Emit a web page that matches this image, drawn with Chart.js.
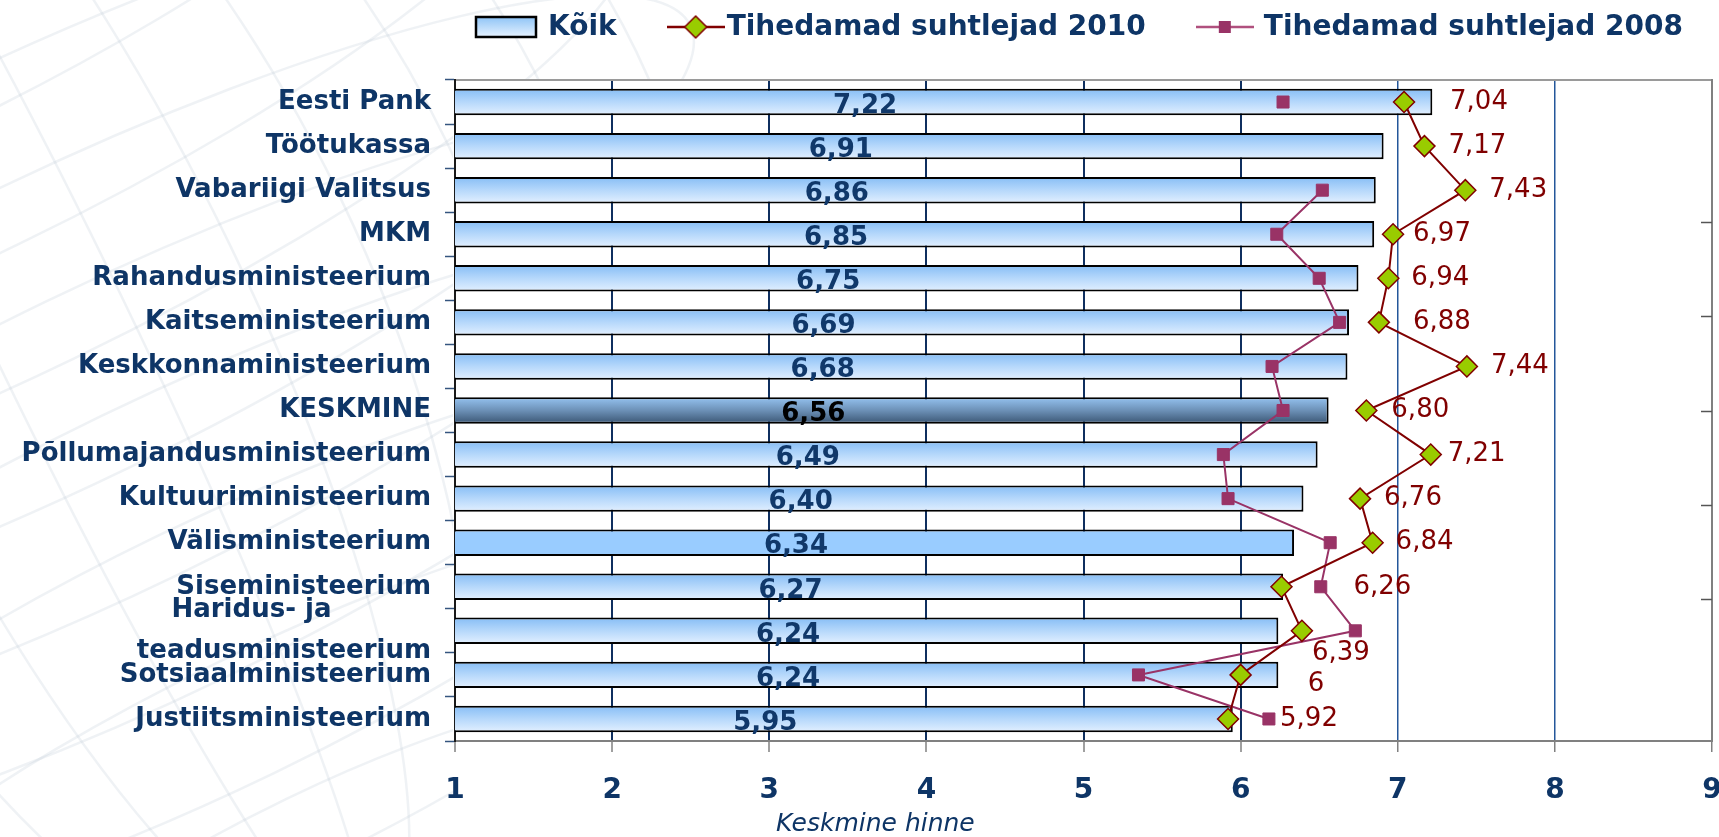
<!DOCTYPE html>
<html>
<head>
<meta charset="utf-8">
<script src="https://cdn.jsdelivr.net/npm/chart.js@4/dist/chart.umd.min.js"></script>
<style>
  html, body { margin: 0; padding: 0; background: #fff; }
  canvas { display: block; }
</style>
</head>
<body>
<canvas id="hinded" width="1719" height="837"></canvas>
<script>
// Andmed
const asutused = [
  'Eesti Pank', 'Töötukassa', 'Vabariigi Valitsus', 'MKM', 'Rahandusministeerium',
  'Kaitseministeerium', 'Keskkonnaministeerium', 'KESKMINE', 'Põllumajandusministeerium',
  'Kultuuriministeerium', 'Välisministeerium', 'Siseministeerium',
  ['Haridus- ja' + '\u00a0'.repeat(11), 'teadusministeerium'],
  'Sotsiaalministeerium', 'Justiitsministeerium'
];
const koik = [7.22, 6.91, 6.86, 6.85, 6.75, 6.69, 6.68, 6.56, 6.49, 6.40, 6.34, 6.27, 6.24, 6.24, 5.95];
const suhtlejad2010 = [7.04, 7.17, 7.43, 6.97, 6.94, 6.88, 7.44, 6.80, 7.21, 6.76, 6.84, 6.26, 6.39, 6.00, 5.92];
const suhtlejad2008 = [6.27, null, 6.52, 6.23, 6.50, 6.63, 6.20, 6.27, 5.89, 5.92, 6.57, 6.51, 6.73, 5.35, 6.18];
const xTicks = [1, 2, 3, 4, 5, 6, 7, 8, 9];
const y2Ticks = [1, 2, 3, 4, 5];

// 2010 siltide nihe punktist (px), Exceli käsitsi paigutus
const silt2010Nihe = [[46, 0], [24, 0], [24, 0], [20, 0], [23, 0], [34, 0], [24, 0], [25, 0],
  [17, 0], [24, 0], [23, 0], [72, 0], [10, 22], [67, 9], [52, 0]];

const FONT = '"DejaVu Sans", Verdana, sans-serif';
const TEKST = '#0e3566';
const PALK_OSA = 0.6;

const koma = v => Number.isInteger(v) ? String(v) : v.toFixed(2).replace('.', ',');

// Tulpade täide: gradient iga tulba kohta
function palgiTaust(c) {
  const chart = c.chart;
  const y = chart.scales.y;
  if (c.type !== 'data' || !y) return '#99ccff';
  const nimi = asutused[c.dataIndex];
  if (nimi === 'Välisministeerium') return '#99ccff';
  const kesk = y.getPixelForValue(c.dataIndex);
  const pool = Math.abs(y.getPixelForValue(1) - y.getPixelForValue(0)) * PALK_OSA / 2;
  if (!isFinite(kesk) || !isFinite(pool) || pool <= 0) return '#b6d8fb';
  const g = chart.ctx.createLinearGradient(0, kesk - pool, 0, kesk + pool);
  if (nimi === 'KESKMINE') {
    g.addColorStop(0, '#95c3f1');
    g.addColorStop(0.5, '#6c90b6');
    g.addColorStop(1, '#3a5573');
  } else {
    g.addColorStop(0, '#86bdf5');
    g.addColorStop(0.5, '#b6d8fb');
    g.addColorStop(1, '#e3f0ff');
  }
  return g;
}

// Legendi ikoonid
function kastIkoon() {
  const c = document.createElement('canvas');
  c.width = 64; c.height = 24;
  const g = c.getContext('2d');
  const gr = g.createLinearGradient(0, 2, 0, 22);
  gr.addColorStop(0, '#8fc4f6');
  gr.addColorStop(1, '#e6f2ff');
  g.fillStyle = gr;
  g.fillRect(2, 2, 60, 20);
  g.strokeStyle = '#000';
  g.lineWidth = 2.5;
  g.strokeRect(2, 2, 60, 20);
  return c;
}
function joonIkoon(varv, kuju) {
  const c = document.createElement('canvas');
  c.width = 58; c.height = 26;
  const g = c.getContext('2d');
  g.strokeStyle = varv;
  g.lineWidth = 2.5;
  g.beginPath(); g.moveTo(0, 13); g.lineTo(58, 13); g.stroke();
  if (kuju === 'romb') {
    g.beginPath();
    g.moveTo(18, 13); g.lineTo(29, 2); g.lineTo(40, 13); g.lineTo(29, 24); g.closePath();
    g.fillStyle = '#99cc00'; g.fill();
    g.lineWidth = 1.5; g.strokeStyle = '#800000'; g.stroke();
  } else {
    g.fillStyle = '#993366';
    g.fillRect(23, 7, 12, 12);
  }
  return c;
}
const legendiIkoonid = [
  { ikoon: kastIkoon(), vahe: 10 },
  { ikoon: joonIkoon('#800000', 'romb'), vahe: 2 },
  { ikoon: joonIkoon('#b0507e', 'ruut'), vahe: 10 }
];

// Taustamuster (kerakujuline vesimärk)
const taust = {
  id: 'taust',
  beforeDraw(chart) {
    const g = chart.ctx;
    const ala = chart.chartArea;
    g.save();
    g.fillStyle = '#fff';
    g.fillRect(0, 0, chart.width, chart.height);
    g.beginPath();
    g.rect(0, 0, ala.left - 2, chart.height);
    g.rect(ala.left - 2, 0, 300, ala.top);
    g.clip();
    g.strokeStyle = 'rgba(190, 202, 215, 0.25)';
    g.lineWidth = 2.5;
    g.translate(60, 330);
    g.rotate(-0.45);
    for (const rx of [70, 190, 310, 430, 540, 640]) {
      g.beginPath(); g.ellipse(0, 0, rx, 700, 0, 0, Math.PI * 2); g.stroke();
    }
    for (let k = -5; k <= 5; k++) {
      const yk = k * 120;
      const rx = Math.sqrt(700 * 700 - yk * yk);
      g.beginPath(); g.ellipse(0, yk, rx, rx * 0.22, 0, 0, Math.PI * 2); g.stroke();
    }
    g.restore();
  }
};

// Parempoolse telje sisemised kriipsud
const sisekriipsud = {
  id: 'sisekriipsud',
  afterDraw(chart) {
    const s = chart.scales.y2;
    const g = chart.ctx;
    g.save();
    g.strokeStyle = '#555';
    g.lineWidth = 1.5;
    y2Ticks.forEach(v => {
      const y = Math.round(s.getPixelForValue(v)) + 0.5;
      g.beginPath(); g.moveTo(s.left - 11, y); g.lineTo(s.left, y); g.stroke();
    });
    g.restore();
  }
};

// Legend ülal
const legendiRida = {
  id: 'legendiRida',
  afterDraw(chart) {
    const g = chart.ctx;
    const yKesk = 27;
    let x = 474;
    g.save();
    g.font = 'bold 28px ' + FONT;
    g.textBaseline = 'middle';
    g.textAlign = 'left';
    g.fillStyle = TEKST;
    chart.data.datasets.forEach((ds, i) => {
      const { ikoon, vahe } = legendiIkoonid[i];
      g.drawImage(ikoon, x, Math.round(yKesk - ikoon.height / 2));
      x += ikoon.width + vahe;
      g.fillText(ds.label, x, yKesk + 1);
      x += g.measureText(ds.label).width + 50;
    });
    g.restore();
  }
};

// Väärtuste sildid
const sildid = {
  id: 'sildid',
  afterDatasetDraw(chart, args) {
    if (args.index !== 0) return;
    const g = chart.ctx;
    g.save();
    g.font = 'bold 26px ' + FONT;
    g.textAlign = 'center';
    g.textBaseline = 'middle';
    args.meta.data.forEach((el, i) => {
      g.fillStyle = asutused[i] === 'KESKMINE' ? '#000' : '#10386a';
      g.fillText(koik[i].toFixed(2).replace('.', ','), (el.x + el.base) / 2, el.y + 4);
    });
    g.restore();
  },
  afterDatasetsDraw(chart) {
    const meta = chart.getDatasetMeta(1);
    const g = chart.ctx;
    g.save();
    g.font = '26px ' + FONT;
    g.fillStyle = '#800000';
    g.textAlign = 'left';
    g.textBaseline = 'middle';
    meta.data.forEach((el, i) => {
      const v = suhtlejad2010[i];
      if (v == null) return;
      const [dx, dy] = silt2010Nihe[i];
      g.fillText(koma(v), el.x + dx, el.y + dy);
    });
    g.restore();
  }
};

const ctx = document.getElementById('hinded').getContext('2d');
const graafik = new Chart(ctx, {
  type: 'bar',
  data: {
    labels: asutused,
    datasets: [
      {
        type: 'bar',
        label: 'Kõik',
        data: koik,
        backgroundColor: palgiTaust,
        borderColor: '#000',
        borderWidth: 2,
        borderSkipped: false,
        barPercentage: PALK_OSA,
        categoryPercentage: 1,
        order: 2
      },
      {
        type: 'line',
        label: 'Tihedamad suhtlejad 2010',
        data: suhtlejad2010,
        indexAxis: 'y',
        borderColor: '#800000',
        borderWidth: 2,
        pointStyle: 'rectRot',
        pointRadius: 10.5,
        pointBackgroundColor: '#99cc00',
        pointBorderColor: '#800000',
        pointBorderWidth: 1.5,
        tension: 0,
        order: 0
      },
      {
        type: 'line',
        label: 'Tihedamad suhtlejad 2008',
        data: suhtlejad2008,
        indexAxis: 'y',
        borderColor: '#993366',
        borderWidth: 2,
        pointStyle: 'rect',
        pointRadius: 8.5,
        pointBackgroundColor: '#993366',
        pointBorderColor: '#993366',
        pointBorderWidth: 1,
        spanGaps: false,
        tension: 0,
        order: 1
      }
    ]
  },
  options: {
    responsive: false,
    animation: false,
    indexAxis: 'y',
    layout: { autoPadding: false, padding: { top: 78, right: 0, bottom: 0, left: 0 } },
    scales: {
      x: {
        type: 'linear',
        position: 'bottom',
        min: 1,
        max: 9,
        afterBuildTicks: s => { s.ticks = xTicks.map(v => ({ value: v })); },
        ticks: {
          color: TEKST,
          font: { family: FONT, size: 28, weight: 'bold', lineHeight: 2.8 },
          padding: 0
        },
        grid: {
          color: c => (c.tick.value === 1 || c.tick.value === 9) ? 'rgba(0,0,0,0)'
            : (c.tick.value >= 7 ? '#24579a' : '#0f2f5f'),
          lineWidth: c => c.tick.value >= 7 ? 1.5 : 2,
          tickLength: 11,
          tickColor: '#808080',
          tickWidth: 1.5
        },
        border: { color: '#808080', width: 2 },
        afterFit: s => { s.height = 71; s.paddingRight = 7; }
      },
      xTop: {
        type: 'linear',
        position: 'top',
        min: 1,
        max: 9,
        ticks: { display: false },
        grid: { display: false },
        border: { color: '#9a9a9a', width: 2 },
        afterFit: s => { s.height = 2; }
      },
      y: {
        type: 'category',
        position: 'left',
        offset: true,
        ticks: {
          color: TEKST,
          font: { family: FONT, size: 26, weight: 'bold', lineHeight: 1.6 },
          padding: 14,
          autoSkip: false
        },
        grid: {
          offset: true,
          drawOnChartArea: false,
          tickLength: 10,
          tickColor: '#35557f',
          tickWidth: 1.5
        },
        border: { color: '#1a1a1a', width: 2 },
        afterFit: s => { s.width = 455; }
      },
      y2: {
        type: 'linear',
        position: 'right',
        min: 0,
        max: 6,
        ticks: { display: false },
        grid: { display: false },
        border: { color: '#808080', width: 2 },
        afterFit: s => { s.width = 0; }
      }
    },
    plugins: {
      legend: { display: false },
      title: {
        display: true,
        position: 'bottom',
        text: '\u00a0'.repeat(4) + 'Keskmine hinne',
        color: TEKST,
        font: { family: FONT, size: 25, style: 'italic', weight: 'normal', lineHeight: 1.0 },
        padding: { top: 0, bottom: 0 }
      },
      tooltip: { enabled: false }
    }
  },
  plugins: [taust, sisekriipsud, sildid, legendiRida]
});
</script>
</body>
</html>
